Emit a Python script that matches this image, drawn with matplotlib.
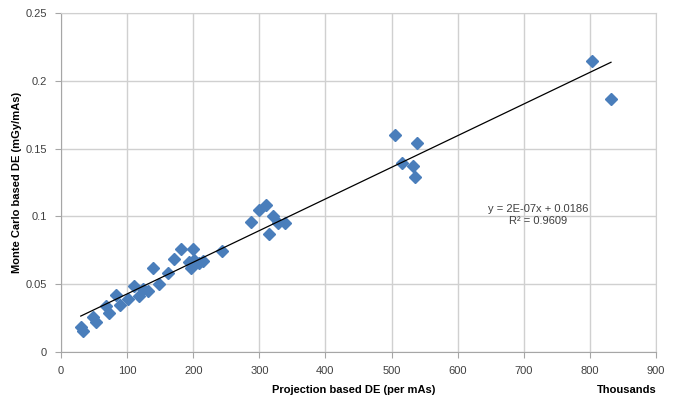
import matplotlib
matplotlib.use("Agg")
import matplotlib.pyplot as plt
import numpy as np

plt.rcParams['font.family'] = ['Liberation Sans', 'DejaVu Sans']

# Projection based DE (thousands per mAs)
proj_de = [29.9, 32.9, 49, 53, 67.8, 73.3, 83, 89.5, 101, 109.7, 118, 124, 131.5,
           139, 147.7, 161.4, 170.5, 182, 193, 196.7, 199, 201.8, 208, 215, 244,
           288, 299.5, 309.6, 320.6, 314.6, 328.8, 338.9,
           505.3, 538.7, 515.5, 532.2, 536.1, 802.7, 832]
# Monte Carlo based DE (mGy/mAs)
mc_de = [0.0187, 0.0157, 0.026, 0.0223, 0.0339, 0.029, 0.042, 0.035, 0.0388, 0.0487,
         0.0413, 0.0467, 0.045, 0.0617, 0.0499, 0.058, 0.0685, 0.0757, 0.0666, 0.0621,
         0.0757, 0.0678, 0.0658, 0.067, 0.0744,
         0.0955, 0.105, 0.1083, 0.1005, 0.0867, 0.0953, 0.0953,
         0.16, 0.1538, 0.1395, 0.137, 0.1287, 0.2147, 0.1862]

x_ticks = [0, 100, 200, 300, 400, 500, 600, 700, 800, 900]
y_ticks = [0, 0.05, 0.1, 0.15, 0.2, 0.25]
y_tick_labels = ['0', '0.05', '0.1', '0.15', '0.2', '0.25']
equation_text = "y = 2E-07x + 0.0186\nR² = 0.9609"

fig = plt.figure(figsize=(6.87, 4.03), dpi=100)
ax = fig.add_axes([0.0888, 0.1266, 0.866, 0.8414])

ax.set_xlim(0, 900)
ax.set_ylim(0, 0.25)
ax.set_xticks(x_ticks)
ax.set_yticks(y_ticks)
ax.set_yticklabels(y_tick_labels)
ax.grid(True, color='#d0d0d0', linewidth=1.0)
ax.set_axisbelow(True)
for side in ['top', 'right']:
    ax.spines[side].set_color('#d0d0d0')
for side in ['left', 'bottom']:
    ax.spines[side].set_color('#a6a6a6')
ax.tick_params(axis='both', colors='#a6a6a6', labelcolor='#404040', labelsize=8,
               length=4, direction='out', pad=6)

x = np.array(proj_de)
y = np.array(mc_de)
ax.plot(x, y, linestyle='none', marker='D', markersize=6.3,
        color='#4a7ebb', markeredgecolor='#4a7ebb', zorder=3)

coef = np.polyfit(x, y, 1)
xl = np.array([x.min(), x.max()])
ax.plot(xl, np.polyval(coef, xl), color='black', linewidth=0.9, zorder=4)

ax.text(722, 0.101, equation_text, ha='center', va='center', fontsize=8,
        color='#404040', linespacing=1.2)

fig.text(0.025, 0.5466, 'Monte Carlo based DE (mGy/mAs)', rotation=90,
         ha='center', va='center', fontsize=8, fontweight='bold', color='#000000')
fig.text(354 / 687, 1 - 390 / 403, 'Projection based DE (per mAs)',
         ha='center', va='center', fontsize=8, fontweight='bold')
fig.text(627 / 687, 1 - 390 / 403, 'Thousands',
         ha='center', va='center', fontsize=8, fontweight='bold')

fig.savefig('out.png', dpi=100)
